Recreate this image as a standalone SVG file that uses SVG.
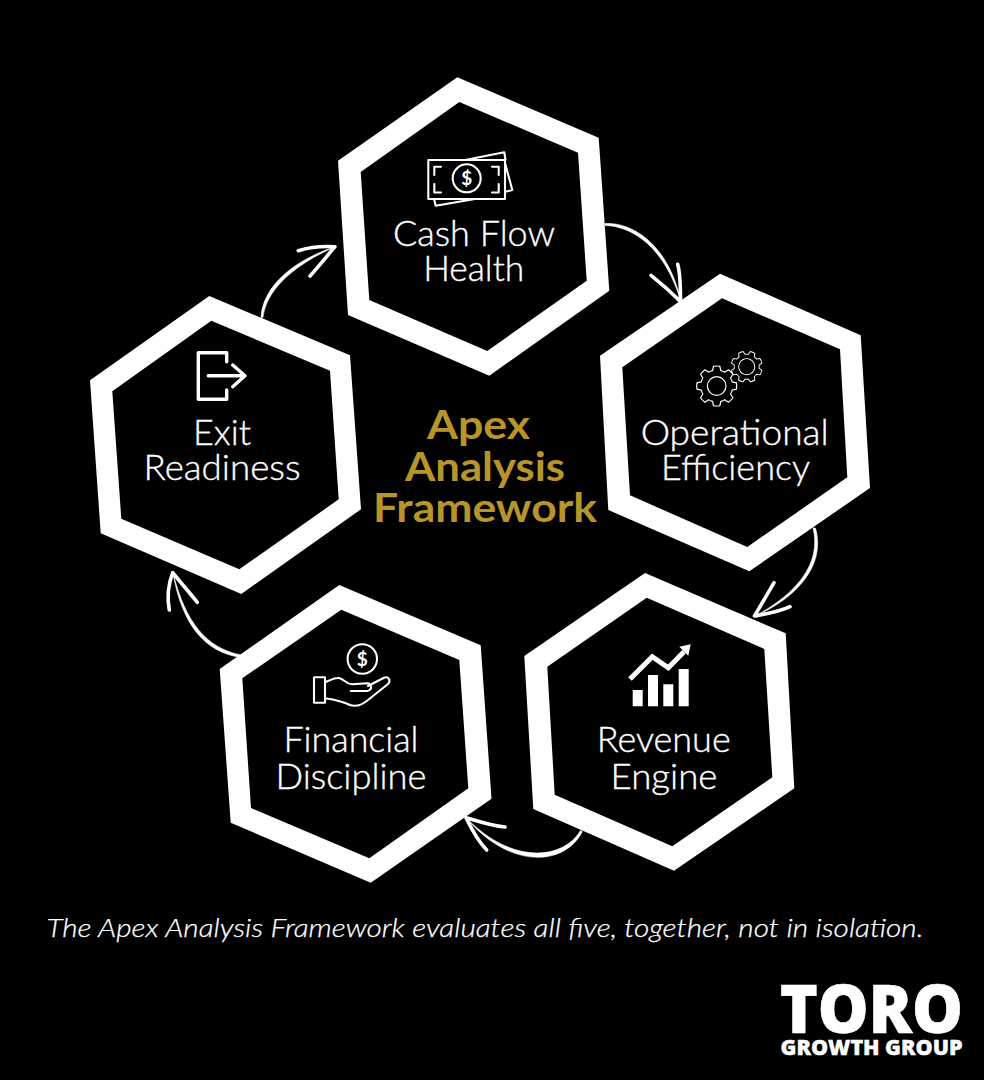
<svg xmlns="http://www.w3.org/2000/svg" xmlns:xlink="http://www.w3.org/1999/xlink" width="984" height="1080" viewBox="0 0 984 1080">
<style>
.hex{fill:#fff;fill-rule:evenodd}
.lbl{font-family:"Lato","Noto Sans",sans-serif;font-weight:300;font-size:35px;fill:#fff;stroke:#fff;stroke-width:.35px;text-anchor:middle}
.ttl{font-family:"Lato","Noto Sans",sans-serif;font-weight:700;font-size:41px;fill:#b7952b;text-anchor:middle}
.cap{font-family:"Lato","Noto Sans",sans-serif;font-weight:300;font-style:italic;font-size:26px;fill:#fff;stroke:#fff;stroke-width:.25px}
.logo{font-family:"Open Sans","Noto Sans",sans-serif;font-weight:800;fill:#fff;stroke:#fff;text-anchor:start}
.wire{fill:#fff;stroke:#fff;stroke-width:.6;stroke-linejoin:round}
.head{fill:none;stroke:#fff;stroke-width:3.6;stroke-linecap:round;stroke-linejoin:round}
.ico{fill:none;stroke:#fff;stroke-width:2.1;stroke-linecap:round;stroke-linejoin:round}
.gr{fill:none;stroke:#fff;stroke-width:1.2;stroke-linejoin:round}
.dol{font-family:"Lato","Noto Sans",sans-serif;font-weight:700;font-size:19px;fill:#fff;text-anchor:middle}
</style>
<defs>
<path id="gt" d="M-6.12-14.78A16 16 0 0 1-4.14-15.45L-3.13-19.75A20 20 0 0 1 3.13-19.75L4.14-15.45A16 16 0 0 1 6.12-14.78"/>
<g id="gear8">
<use xlink:href="#gt" href="#gt"/>
<use xlink:href="#gt" href="#gt" transform="rotate(45)"/>
<use xlink:href="#gt" href="#gt" transform="rotate(90)"/>
<use xlink:href="#gt" href="#gt" transform="rotate(135)"/>
<use xlink:href="#gt" href="#gt" transform="rotate(180)"/>
<use xlink:href="#gt" href="#gt" transform="rotate(225)"/>
<use xlink:href="#gt" href="#gt" transform="rotate(270)"/>
<use xlink:href="#gt" href="#gt" transform="rotate(315)"/>
</g>
</defs>
<rect width="984" height="1080" fill="#000"/>
<g id="connectors">
<path class="wire" d="M605 223.500C633 222 669 245 681 302C665 247 632 226 605 225.500Z"/>
<path class="head" d="M651 275.300C662 284 672 293 680.700 301.700C680 290 681 276 677.700 264.300"/>
<path class="wire" d="M815.500 528C826 565 797 598 755 616C795.500 594.500 822 564 813 528Z"/>
<path class="head" d="M774 582.700C767 595 761 605 754.500 616C766 614 779 612 790 606.700"/>
<path class="wire" d="M582.300 831.700C565 866 510 870 466 817.700C512 865 563 860 580.500 830.500Z"/>
<path class="head" d="M505 827C492 826 480 822 466 817.700C472 830 478 841 486.700 850"/>
<path class="wire" d="M240 657.300C205 652 182 625 173 573C186 624 207 648 241 655Z"/>
<path class="head" d="M197.300 602.300C189 592 181 583 172.700 572.700C168 585 167 598 169.300 610"/>
<path class="wire" d="M261 317.300C263 285 295 260 335 246.700C297 264 267 287 263 317.300Z"/>
<path class="head" d="M298.300 250.700C310 247 323 246 335 246.700C327 256 318 267 310 276"/>
</g>
<g id="node-cash-flow">
<path class="hex" d="M457.300 77.300L598.700 137.700L609.300 290.700L489.300 375.700L348 315L338 160.700ZM459.300 102L360.700 172L369.300 300L487.300 351L586.700 280.700L578 152.700Z"/>
<path class="ico" d="M428.300 160H505V199H428.300ZM465 160L504.300 152.300L505.500 160M505 163L512.300 190L505.500 191.700M434.300 200L435.700 205.700L475 199M441 166.700H434.300V175M434.300 184V192.500H441M492 166.700H498.700V175M498.700 184V192.500H492"/>
<circle class="ico" cx="466.700" cy="178.300" r="14"/>
<text class="dol" x="466.700" y="185">$</text>
<text class="lbl" x="474" y="245.700" textLength="162" lengthAdjust="spacingAndGlyphs">Cash Flow</text>
<text class="lbl" x="473.700" y="281" textLength="101" lengthAdjust="spacingAndGlyphs">Health</text>
</g>
<g id="node-operational-efficiency">
<path class="hex" d="M720 273.700L860.700 335.300L870 488L749.300 571.300L608.300 510L600 355.700ZM722 298.300L622.300 367.300L630 495.300L747.300 547L847.300 477.300L840 349.300Z"/>
<g class="gr" transform="translate(716.700 386)"><use xlink:href="#gear8" href="#gear8"/><circle r="9.300"/></g>
<g class="gr" transform="translate(746.700 366.700) rotate(22.500) scale(.78)"><use xlink:href="#gear8" href="#gear8"/><circle r="10.300"/></g>
<text class="lbl" x="734.700" y="445" textLength="188" lengthAdjust="spacingAndGlyphs">Operational</text>
<text class="lbl" x="735.500" y="480.300" textLength="149" lengthAdjust="spacingAndGlyphs">Efficiency</text>
</g>
<g id="node-revenue-engine">
<path class="hex" d="M645 573L785.700 633.300L794.300 788.300L674 870.700L533.300 809L524.300 656ZM646.700 597.700L547.300 666.700L554.700 794.700L672.300 846.300L772.300 777.300L764.300 649Z"/>
<path fill="#fff" d="M632.700 690H642.700V706.300H632.700ZM648 675H658V706.300H648ZM663.300 684.300H673.300V706.300H663.300ZM678.700 669H688.700V706.300H678.700ZM690.700 644.300L679.300 646.700L688.300 655.700Z"/>
<path fill="none" stroke="#fff" stroke-width="5" d="M630 679L652.300 656.700L668.300 667.700L684 651.700"/>
<text class="lbl" x="663.700" y="751.700" textLength="134" lengthAdjust="spacingAndGlyphs">Revenue</text>
<text class="lbl" x="664" y="788.700" textLength="107" lengthAdjust="spacingAndGlyphs">Engine</text>
</g>
<g id="node-financial-discipline">
<path class="hex" d="M339.300 585L480.700 645.300L491.500 798.700L370.700 882.700L230.700 822.700L219.700 669ZM341.300 609.700L242.300 678.300L251 808L369.300 858.300L468.300 788.300L459.300 660Z"/>
<circle class="ico" cx="362.300" cy="659" r="14.700"/>
<text class="dol" x="362.300" y="665.700">$</text>
<path class="ico" d="M314 677.300H325V702.700H314ZM325 682.300C331 680 334 677.500 339 678C344 679 346 684 352 684.300L367 683.300C372 683.500 373 690 367 691H350.700M368 686L384 677.700C389 676 391 681 388 684L368 700C362 705 356 707 350 705C342 701 333 699.500 325 698.300"/>
<text class="lbl" x="351" y="751.700" textLength="135" lengthAdjust="spacingAndGlyphs">Financial</text>
<text class="lbl" x="351" y="788.700" textLength="151" lengthAdjust="spacingAndGlyphs">Discipline</text>
</g>
<g id="node-exit-readiness">
<path class="hex" d="M209.300 296L350 355.300L361 509.300L241.300 594L100.700 533.300L90 380.300ZM211.300 320.700L112.300 391.300L121.300 518.700L239.300 569.300L338.700 499.300L330 370.700Z"/>
<path fill="none" stroke="#fff" stroke-width="3.400" stroke-linecap="round" stroke-linejoin="round" d="M226.700 361.700V352.700H198.300V399.300H226.700V390M208.300 375.700H245M232.700 365L245 375.700L232.700 386.700"/>
<text class="lbl" x="222" y="445" textLength="58" lengthAdjust="spacingAndGlyphs">Exit</text>
<text class="lbl" x="222" y="480" textLength="157" lengthAdjust="spacingAndGlyphs">Readiness</text>
</g>
<g id="center-title">
<text class="ttl" x="478.500" y="439" textLength="103" lengthAdjust="spacingAndGlyphs">Apex</text>
<text class="ttl" x="485" y="481" textLength="160" lengthAdjust="spacingAndGlyphs">Analysis</text>
<text class="ttl" x="485" y="522" textLength="224" lengthAdjust="spacingAndGlyphs">Framework</text>
</g>
<text class="cap" x="46.500" y="937" textLength="877" lengthAdjust="spacingAndGlyphs">The Apex Analysis Framework evaluates all five, together, not in isolation.</text>
<g id="logo">
<text class="logo" x="780" y="1033" font-size="67" stroke-width=".7" textLength="183" lengthAdjust="spacingAndGlyphs">TORO</text>
<text class="logo" x="780.500" y="1055" font-size="20.500" stroke-width=".4" textLength="182" lengthAdjust="spacingAndGlyphs">GROWTH GROUP</text>
</g>
</svg>
